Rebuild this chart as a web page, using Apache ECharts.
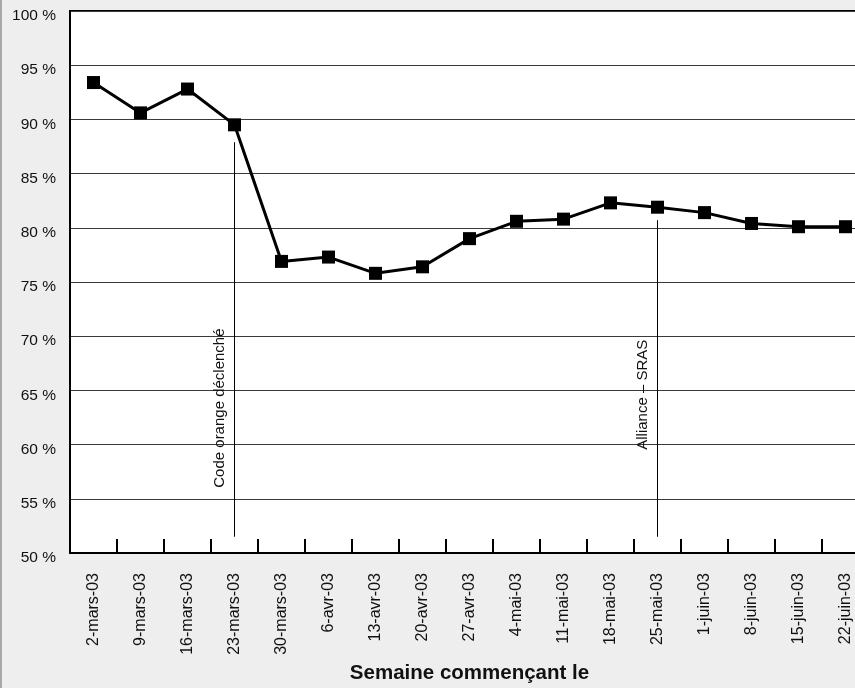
<!DOCTYPE html>
<html>
<head>
<meta charset="utf-8">
<script src="https://cdn.jsdelivr.net/npm/echarts@6/dist/echarts.min.js"></script>
<style>
  html, body { margin: 0; padding: 0; background: #eeeeee; }
  #chart { width: 855px; height: 688px; }
</style>
</head>
<body>
<div id="chart"></div>
<script>
// Weekly share (%) — weeks starting on the given date, 2003
const weeks = [
  '2-mars-03', '9-mars-03', '16-mars-03', '23-mars-03', '30-mars-03',
  '6-avr-03', '13-avr-03', '20-avr-03', '27-avr-03', '4-mai-03',
  '11-mai-03', '18-mai-03', '25-mai-03', '1-juin-03', '8-juin-03',
  '15-juin-03', '22-juin-03'
];
const rates = [
  93.4, 90.6, 92.8, 89.5, 76.9,
  77.3, 75.8, 76.4, 79.0, 80.6,
  80.8, 82.3, 81.9, 81.4, 80.4,
  80.1, 80.1
];
// Event markers: week, bottom and top of the vertical rule, caption
const events = [
  { week: '23-mars-03', from: 51.5, to: 87.9, text: 'Code orange déclenché', offset: 49 },
  { week: '25-mai-03', from: 51.5, to: 80.7, text: 'Alliance – SRAS', offset: 87 }
];
const yTicks = { min: 50, max: 100, step: 5 };

const FONT = '"Liberation Sans", Arial, sans-serif';
const chart = echarts.init(document.getElementById('chart'), null, { renderer: 'canvas' });

chart.setOption({
  animation: false,
  backgroundColor: '#eeeeee',
  graphic: [{
    type: 'line',
    shape: { x1: 1, y1: 0, x2: 1, y2: 688 },
    style: { stroke: '#a8a8a8', lineWidth: 2 },
    silent: true
  }],
  grid: {
    left: 70, top: 11, width: 799, height: 542,
    outerBoundsMode: 'none',
    containLabel: false,
    show: true, backgroundColor: '#ffffff',
    borderColor: '#000000', borderWidth: 2
  },
  xAxis: {
    type: 'category',
    data: weeks,
    boundaryGap: true,
    name: 'Semaine commençant le',
    nameLocation: 'middle',
    nameGap: 109,
    nameTextStyle: { fontFamily: FONT, fontSize: 20.5, fontWeight: 'bold', color: '#111' },
    axisLine: { lineStyle: { color: '#000', width: 2 } },
    axisTick: { show: true, inside: true, length: 14, lineStyle: { color: '#000', width: 2 } },
    axisLabel: {
      interval: 0, rotate: 90, margin: 20,
      fontFamily: FONT, fontSize: 16, color: '#111'
    },
    splitLine: { show: false }
  },
  yAxis: {
    type: 'value',
    min: yTicks.min, max: yTicks.max, interval: yTicks.step,
    axisLine: { show: true, lineStyle: { color: '#000', width: 2 } },
    axisTick: { show: false },
    axisLabel: {
      margin: 14, fontFamily: FONT, fontSize: 15.5, color: '#111',
      verticalAlign: 'top', lineHeight: 10,
      formatter: v => v + ' %'
    },
    splitLine: { show: true, lineStyle: { color: '#3a3a3a', width: 1 } }
  },
  series: [{
    type: 'line',
    data: rates,
    symbol: 'rect',
    symbolSize: 13,
    lineStyle: { color: '#000', width: 3 },
    itemStyle: { color: '#000' },
    z: 5,
    markLine: {
      silent: true,
      symbol: ['none', 'none'],
      lineStyle: { color: '#000', width: 1, type: 'solid' },
      data: events.map(e => [
        {
          coord: [e.week, e.from],
          label: {
            show: true,
            formatter: e.text,
            position: 'insideStartTop',
            distance: [e.offset, 7],
            fontFamily: FONT, fontSize: 15, color: '#111'
          }
        },
        { coord: [e.week, e.to] }
      ])
    }
  }]
});
</script>
</body>
</html>
